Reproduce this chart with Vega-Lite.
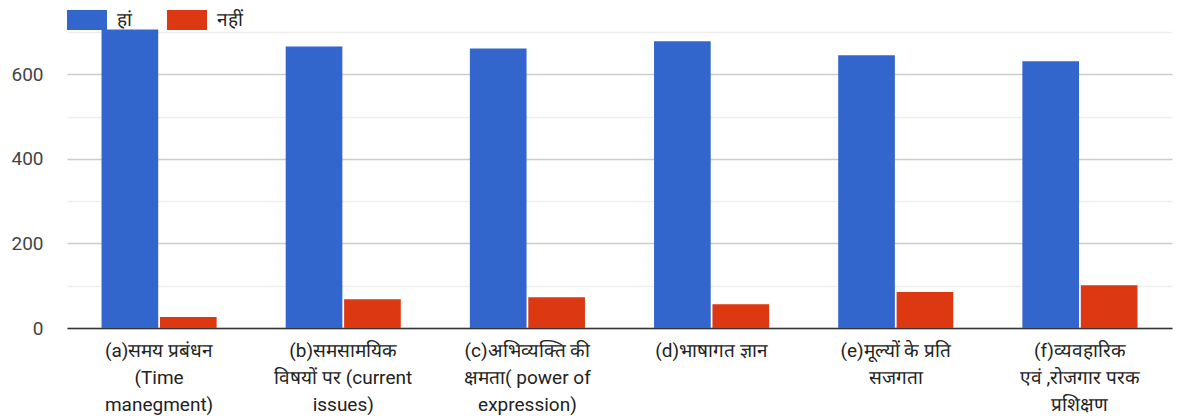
{
  "$schema": "https://vega.github.io/schema/vega-lite/v6.json",
  "width": 1184,
  "height": 418,
  "autosize": {"type": "fit", "contains": "padding"},
  "padding": {"left": 10, "right": 12, "top": 0, "bottom": 4},
  "background": "white",
  "config": {
    "font": "Roboto",
    "view": {"stroke": null}
  },
  "data": {
    "values": [
      {"cat": "(a)समय प्रबंधन\n(Time\nmanegment)", "order": 1, "series": "हां", "value": 706},
      {"cat": "(a)समय प्रबंधन\n(Time\nmanegment)", "order": 1, "series": "नहीं", "value": 26},
      {"cat": "(b)समसामयिक\nविषयों पर (current\nissues)", "order": 2, "series": "हां", "value": 666},
      {"cat": "(b)समसामयिक\nविषयों पर (current\nissues)", "order": 2, "series": "नहीं", "value": 68},
      {"cat": "(c)अभिव्यक्ति की\nक्षमता( power of\nexpression)", "order": 3, "series": "हां", "value": 661},
      {"cat": "(c)अभिव्यक्ति की\nक्षमता( power of\nexpression)", "order": 3, "series": "नहीं", "value": 73},
      {"cat": "(d)भाषागत ज्ञान", "order": 4, "series": "हां", "value": 678},
      {"cat": "(d)भाषागत ज्ञान", "order": 4, "series": "नहीं", "value": 56},
      {"cat": "(e)मूल्यों के प्रति\nसजगता", "order": 5, "series": "हां", "value": 645},
      {"cat": "(e)मूल्यों के प्रति\nसजगता", "order": 5, "series": "नहीं", "value": 85},
      {"cat": "(f)व्यवहारिक\nएवं ,रोजगार परक\nप्रशिक्षण", "order": 6, "series": "हां", "value": 631},
      {"cat": "(f)व्यवहारिक\nएवं ,रोजगार परक\nप्रशिक्षण", "order": 6, "series": "नहीं", "value": 101}
    ]
  },
  "mark": {"type": "bar", "clip": false},
  "encoding": {
    "x": {
      "field": "cat",
      "type": "nominal",
      "sort": {"field": "order"},
      "scale": {"paddingInner": 0.375, "paddingOuter": 0.1875},
      "axis": {
        "title": null,
        "labelAngle": 0,
        "labelExpr": "split(datum.label, '\\n')",
        "labelFontSize": 19,
        "labelColor": "#222222",
        "labelLineHeight": 27,
        "labelPadding": 13,
        "ticks": false,
        "domainColor": "#333333",
        "domainWidth": 1.5,
        "labelLimit": 400
      }
    },
    "xOffset": {
      "field": "series",
      "type": "nominal",
      "sort": ["हां", "नहीं"],
      "scale": {"paddingInner": 0.03}
    },
    "y": {
      "field": "value",
      "type": "quantitative",
      "scale": {"domain": [0, 700], "nice": false},
      "axis": {
        "title": null,
        "values": [0, 100, 200, 300, 400, 500, 600, 700],
        "labelExpr": "datum.value % 200 == 0 ? datum.label : ''",
        "labelFontSize": 19,
        "labelColor": "#444444",
        "labelPadding": 24,
        "domain": false,
        "ticks": false,
        "gridColor": {"condition": {"test": "datum.value % 200 != 0", "value": "#eeeeee"}, "value": "#cccccc"},
        "gridWidth": 1.5
      }
    },
    "color": {
      "field": "series",
      "type": "nominal",
      "sort": ["हां", "नहीं"],
      "scale": {"domain": ["हां", "नहीं"], "range": ["#3366cc", "#dc3912"]},
      "legend": {
        "title": null,
        "orient": "top",
        "direction": "horizontal",
        "symbolType": "M-1,-0.5H1V0.5H-1Z",
        "symbolSize": 1600,
        "symbolStrokeWidth": 0,
        "symbolOpacity": 1,
        "labelFontSize": 19,
        "labelColor": "#222222",
        "columnPadding": 35,
        "labelOffset": 10,
        "offset": 2,
        "padding": 0
      }
    }
  }
}
